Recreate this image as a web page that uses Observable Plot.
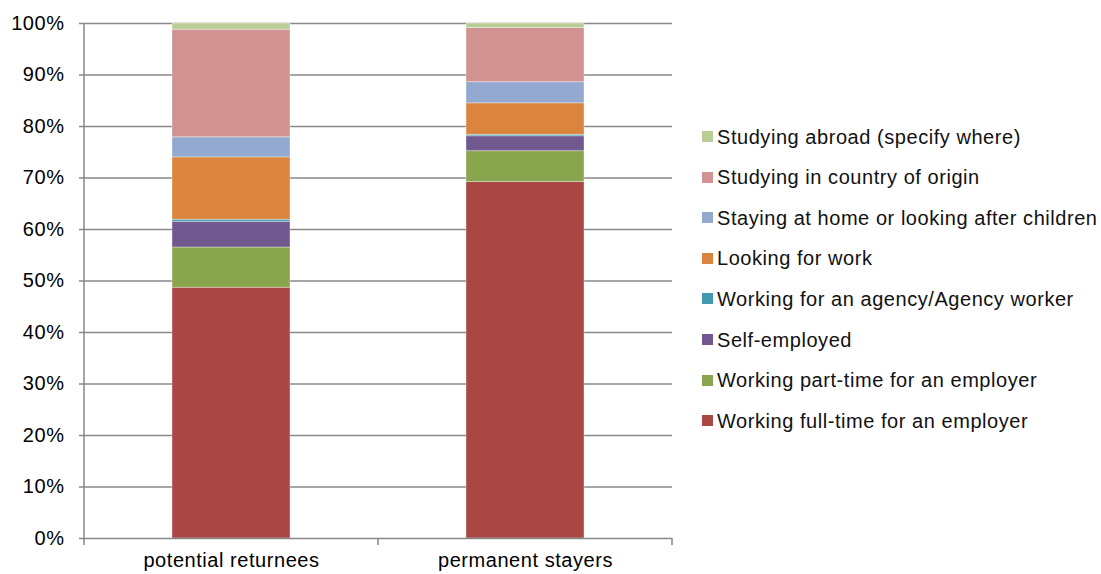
<!DOCTYPE html>
<html>
<head>
<meta charset="utf-8">
<script src="https://cdn.jsdelivr.net/npm/d3@7"></script>
<script src="https://cdn.jsdelivr.net/npm/@observablehq/plot@0.6"></script>
<style>
  html, body { margin: 0; padding: 0; background: #fff; }
  #wrap { position: relative; width: 1101px; height: 574px; font-family: "Liberation Sans", Arial, sans-serif; }
  #wrap svg text { letter-spacing: 0.55px; }
  .leg { position: absolute; left: 702px; display: flex; align-items: center; font-size: 20px; letter-spacing: 0.55px; color: #111; white-space: nowrap; line-height: 22px; }
  .leg .sw { width: 11px; height: 11px; margin-right: 4px; flex: none; }
</style>
</head>
<body>
<div id="wrap"></div>
<script>
const categories = ["potential returnees", "permanent stayers"];
const series = [
  "Working full-time for an employer",
  "Working part-time for an employer",
  "Self-employed",
  "Working for an agency/Agency worker",
  "Looking for work",
  "Staying at home or looking after children",
  "Studying in country of origin",
  "Studying abroad (specify where)"
];
const returnees = [48.7, 7.8, 5.0, 0.4, 12.1, 3.9, 20.9, 1.2];
const stayers   = [69.2, 6.0, 2.9, 0.3, 6.1, 4.1, 10.5, 0.9];
const colors = ["#AA4643", "#89A54E", "#71588F", "#4198AF", "#DB843D", "#93A9CF", "#D19392", "#B9CD96"];
const yTicks = [0, 10, 20, 30, 40, 50, 60, 70, 80, 90, 100];

const valuesByCategory = [returnees, stayers];
const data = [];
categories.forEach((c, ci) => {
  series.forEach((s, si) => data.push({category: c, series: s, value: valuesByCategory[ci][si]}));
});

const W = 1101, H = 574;
const mLeft = 84, mRight = 429, mTop = 23, mBottom = 36;
const plot = Plot.plot({
  width: W,
  height: H,
  marginLeft: mLeft,
  marginRight: mRight,
  marginTop: mTop,
  marginBottom: mBottom,
  style: {fontFamily: '"Liberation Sans", Arial, sans-serif', fontSize: "20px", color: "#000", background: "#fff"},
  x: {domain: categories, paddingInner: 0.6, paddingOuter: 0.3, label: null},
  y: {domain: [0, 100], label: null},
  color: {domain: series, range: colors},
  marks: [
    Plot.ruleY(yTicks.filter(d => d > 0), {stroke: "#878787", strokeWidth: 1.5}),
    Plot.barY(data, {x: "category", y: "value", fill: "series", stroke: "#fff", strokeOpacity: 0.45, strokeWidth: 0.8}),
    Plot.ruleY([0], {stroke: "#878787", strokeWidth: 1.5}),
    Plot.axisY({ticks: yTicks, tickFormat: d => d + "%", tickSize: 5, tickPadding: 15, stroke: "#878787", strokeWidth: 1.5, fill: "#000", label: null}),
    Plot.axisX({tickSize: 0, tickPadding: 14, fill: "#000", label: null})
  ]
});

const xs = plot.scale("x");
const svg = d3.select(plot);
const step = xs.step, bw = xs.bandwidth;
const xLeft = mLeft, yBottom = H - mBottom, yTop = mTop;
// left axis line
svg.append("line").attr("x1", xLeft).attr("x2", xLeft).attr("y1", yTop).attr("y2", yBottom + 0.5)
  .attr("stroke", "#878787").attr("stroke-width", 1.5);
// category boundary ticks on x axis
const bounds = [];
categories.forEach((c, i) => {
  const start = xs.apply(c) - (step - bw) / 2;
  if (i === 0) bounds.push(start);
  bounds.push(start + step);
});
bounds.forEach(b => {
  const xb = Math.round(b);
  svg.append("line").attr("x1", xb).attr("x2", xb).attr("y1", yBottom).attr("y2", yBottom + 7)
    .attr("stroke", "#878787").attr("stroke-width", 1.5);
});

const wrap = document.getElementById("wrap");
wrap.appendChild(plot);

// legend (top item first)
const legCenter0 = 136.5, legStep = 40.6;
series.slice().reverse().forEach((s, i) => {
  const idx = series.indexOf(s);
  const div = document.createElement("div");
  div.className = "leg";
  div.style.top = (legCenter0 + i * legStep - 11) + "px";
  const sw = document.createElement("span");
  sw.className = "sw";
  sw.style.background = colors[idx];
  const tx = document.createElement("span");
  tx.textContent = s;
  div.appendChild(sw);
  div.appendChild(tx);
  wrap.appendChild(div);
});
</script>
</body>
</html>
